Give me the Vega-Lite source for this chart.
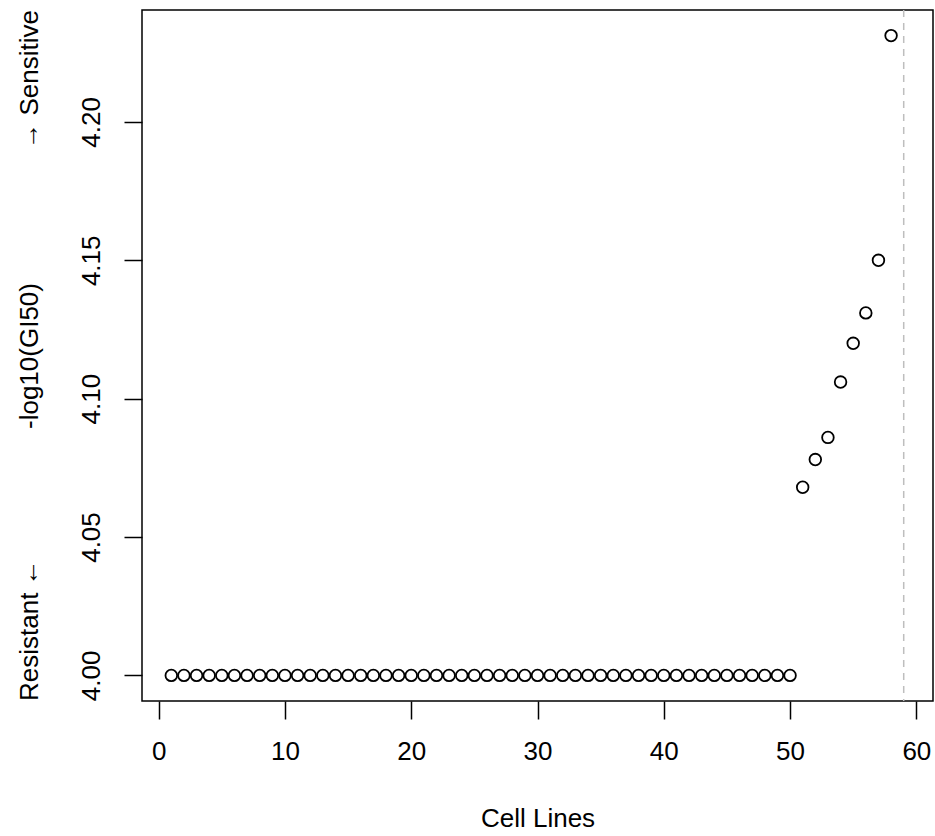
{
  "$schema": "https://vega.github.io/schema/vega-lite/v6.json",
  "width": 791,
  "height": 691,
  "autosize": {"type": "none"},
  "padding": {"left": 142, "top": 10, "right": 2, "bottom": 135},
  "background": "white",
  "config": {
    "font": "Liberation Sans",
    "view": {"stroke": "black", "strokeWidth": 1.5},
    "axis": {
      "domain": false,
      "grid": false,
      "tickColor": "black",
      "tickWidth": 1.5,
      "tickSize": 18,
      "labelColor": "black",
      "labelFont": "Liberation Sans",
      "labelFontSize": 26,
      "titleFont": "Liberation Sans",
      "titleFontSize": 26,
      "titleFontWeight": "normal",
      "titleColor": "black"
    }
  },
  "datasets": {
    "points": [
      {"cell": 1, "value": 4.0}, {"cell": 2, "value": 4.0}, {"cell": 3, "value": 4.0}, {"cell": 4, "value": 4.0}, {"cell": 5, "value": 4.0},
      {"cell": 6, "value": 4.0}, {"cell": 7, "value": 4.0}, {"cell": 8, "value": 4.0}, {"cell": 9, "value": 4.0}, {"cell": 10, "value": 4.0},
      {"cell": 11, "value": 4.0}, {"cell": 12, "value": 4.0}, {"cell": 13, "value": 4.0}, {"cell": 14, "value": 4.0}, {"cell": 15, "value": 4.0},
      {"cell": 16, "value": 4.0}, {"cell": 17, "value": 4.0}, {"cell": 18, "value": 4.0}, {"cell": 19, "value": 4.0}, {"cell": 20, "value": 4.0},
      {"cell": 21, "value": 4.0}, {"cell": 22, "value": 4.0}, {"cell": 23, "value": 4.0}, {"cell": 24, "value": 4.0}, {"cell": 25, "value": 4.0},
      {"cell": 26, "value": 4.0}, {"cell": 27, "value": 4.0}, {"cell": 28, "value": 4.0}, {"cell": 29, "value": 4.0}, {"cell": 30, "value": 4.0},
      {"cell": 31, "value": 4.0}, {"cell": 32, "value": 4.0}, {"cell": 33, "value": 4.0}, {"cell": 34, "value": 4.0}, {"cell": 35, "value": 4.0},
      {"cell": 36, "value": 4.0}, {"cell": 37, "value": 4.0}, {"cell": 38, "value": 4.0}, {"cell": 39, "value": 4.0}, {"cell": 40, "value": 4.0},
      {"cell": 41, "value": 4.0}, {"cell": 42, "value": 4.0}, {"cell": 43, "value": 4.0}, {"cell": 44, "value": 4.0}, {"cell": 45, "value": 4.0},
      {"cell": 46, "value": 4.0}, {"cell": 47, "value": 4.0}, {"cell": 48, "value": 4.0}, {"cell": 49, "value": 4.0}, {"cell": 50, "value": 4.0},
      {"cell": 51, "value": 4.068}, {"cell": 52, "value": 4.078}, {"cell": 53, "value": 4.086}, {"cell": 54, "value": 4.106},
      {"cell": 55, "value": 4.120}, {"cell": 56, "value": 4.131}, {"cell": 57, "value": 4.150}, {"cell": 58, "value": 4.2312}
    ],
    "cutoff": [{"cell": 59}],
    "notes": [
      {"pos": -10.2, "value": 3.99075, "label": "Resistant ←", "side": "start"},
      {"pos": -10.2, "value": 4.24045, "label": "→ Sensitive", "side": "end"}
    ]
  },
  "layer": [
    {
      "data": {"name": "cutoff"},
      "mark": {"type": "rule", "color": "#bebebe", "strokeWidth": 1.5, "strokeDash": [7, 6]},
      "encoding": {
        "x": {"field": "cell", "type": "quantitative", "scale": {"domain": [-1.32, 61.32], "nice": false, "zero": false}}
      }
    },
    {
      "data": {"name": "points"},
      "mark": {"type": "point", "shape": "circle", "filled": false, "stroke": "black", "strokeWidth": 1.8, "size": 135, "opacity": 1},
      "encoding": {
        "x": {
          "field": "cell", "type": "quantitative",
          "scale": {"domain": [-1.32, 61.32], "nice": false, "zero": false},
          "axis": {"values": [0, 10, 20, 30, 40, 50, 60], "title": "Cell Lines", "labelPadding": 19, "titlePadding": 41}
        },
        "y": {
          "field": "value", "type": "quantitative",
          "scale": {"domain": [3.99075, 4.24045], "nice": false, "zero": false},
          "axis": {"values": [4.0, 4.05, 4.1, 4.15, 4.2], "format": ".2f", "labelAngle": 270, "labelAlign": "center", "labelBaseline": "bottom", "labelPadding": 20, "title": "-log10(GI50)", "titlePadding": 36}
        }
      }
    },
    {
      "data": {"name": "notes"},
      "transform": [{"filter": "datum.side === 'start'"}],
      "mark": {"type": "text", "angle": 270, "align": "left", "baseline": "middle", "font": "Liberation Sans", "fontSize": 26, "color": "black", "clip": false},
      "encoding": {
        "x": {"field": "pos", "type": "quantitative"},
        "y": {"field": "value", "type": "quantitative"},
        "text": {"field": "label"}
      }
    },
    {
      "data": {"name": "notes"},
      "transform": [{"filter": "datum.side === 'end'"}],
      "mark": {"type": "text", "angle": 270, "align": "right", "baseline": "middle", "font": "Liberation Sans", "fontSize": 26, "color": "black", "clip": false},
      "encoding": {
        "x": {"field": "pos", "type": "quantitative"},
        "y": {"field": "value", "type": "quantitative"},
        "text": {"field": "label"}
      }
    }
  ]
}
